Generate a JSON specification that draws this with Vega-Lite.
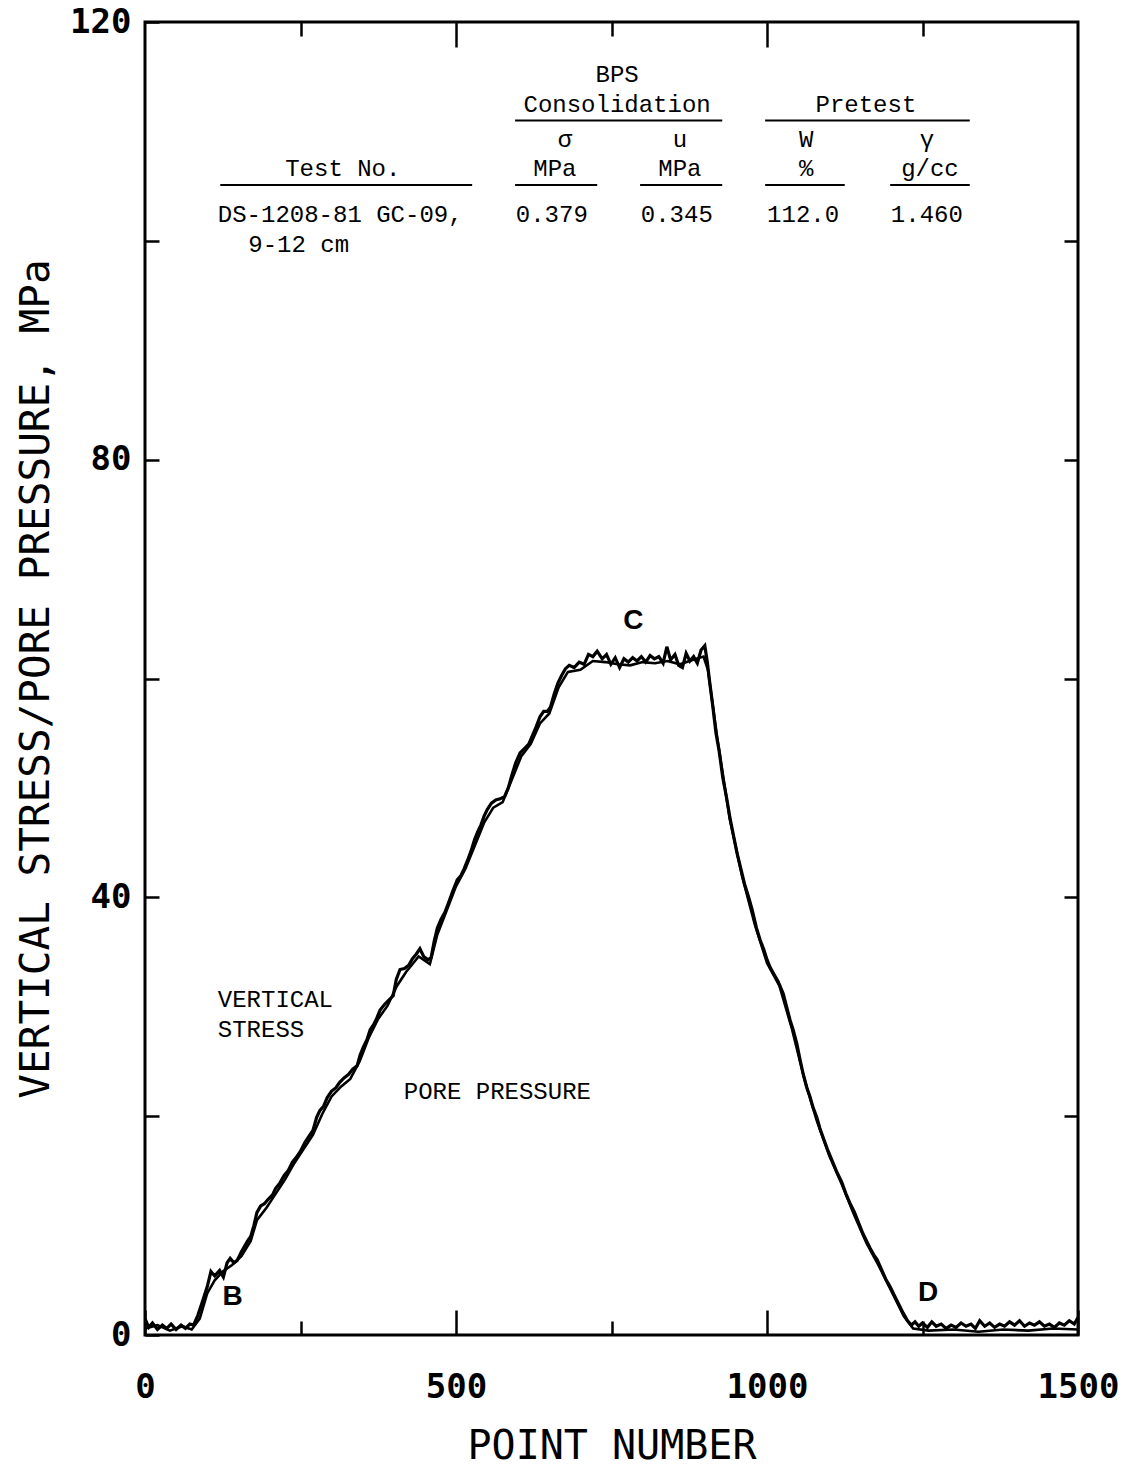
{
  "$schema": "https://vega.github.io/schema/vega-lite/v6.json",
  "width": 933,
  "height": 1313,
  "autosize": "none",
  "padding": {"left": 145, "top": 22, "right": 52, "bottom": 134},
  "background": "white",
  "config": {
    "view": {"stroke": "black", "strokeWidth": 3},
    "axis": {"grid": false, "domain": false, "tickColor": "black", "labelColor": "black", "titleColor": "black"}
  },
  "datasets": {
    "vs": [
      {"n":0,"v":1.5},{"n":6,"v":0.7},{"n":12,"v":1.1},{"n":20,"v":0.5},{"n":28,"v":0.9},{"n":35,"v":0.6},{"n":42,"v":1.0},{"n":50,"v":0.5},{"n":58,"v":0.9},{"n":65,"v":0.6},{"n":72,"v":1.0},{"n":78,"v":0.9},
      {"n":85,"v":1.8},{"n":92,"v":3.0},{"n":100,"v":4.4},{"n":106,"v":5.8},{"n":112,"v":5.4},{"n":120,"v":5.9},{"n":126,"v":5.3},{"n":132,"v":6.6},{"n":137,"v":7.0},{"n":143,"v":6.6},{"n":148,"v":6.8},{"n":155,"v":7.6},{"n":160,"v":8.1},{"n":165,"v":8.6},{"n":170,"v":9.0},{"n":175,"v":10.0},{"n":180,"v":11.2},{"n":186,"v":11.8},{"n":192,"v":12.0},{"n":198,"v":12.4},{"n":205,"v":12.8},{"n":210,"v":13.4},{"n":217,"v":13.9},{"n":224,"v":14.6},{"n":230,"v":15.0},{"n":237,"v":15.8},{"n":244,"v":16.3},{"n":250,"v":16.8},{"n":257,"v":17.6},{"n":264,"v":18.2},{"n":270,"v":18.7},{"n":276,"v":19.9},{"n":281,"v":20.5},{"n":287,"v":20.9},{"n":293,"v":21.7},{"n":300,"v":22.3},{"n":307,"v":22.6},{"n":313,"v":23.1},{"n":320,"v":23.5},{"n":327,"v":23.8},{"n":334,"v":24.3},{"n":341,"v":24.6},{"n":346,"v":25.6},{"n":351,"v":26.3},{"n":357,"v":27.0},{"n":362,"v":27.9},{"n":368,"v":28.4},{"n":373,"v":29.0},{"n":378,"v":29.7},{"n":385,"v":30.2},{"n":392,"v":30.6},{"n":399,"v":31.0},{"n":404,"v":32.5},{"n":410,"v":33.4},{"n":417,"v":33.5},{"n":424,"v":33.8},{"n":430,"v":34.4},{"n":436,"v":34.8},{"n":442,"v":35.3},{"n":448,"v":34.6},{"n":455,"v":34.3},{"n":460,"v":34.5},{"n":465,"v":36.0},{"n":470,"v":37.2},{"n":476,"v":38.0},{"n":482,"v":38.6},{"n":488,"v":39.5},{"n":495,"v":40.6},{"n":502,"v":41.6},{"n":508,"v":42.0},{"n":513,"v":42.6},{"n":518,"v":43.3},{"n":524,"v":44.2},{"n":530,"v":45.3},{"n":535,"v":46.0},{"n":540,"v":46.6},{"n":545,"v":47.4},{"n":550,"v":48.0},{"n":557,"v":48.6},{"n":564,"v":48.9},{"n":571,"v":49.0},{"n":578,"v":49.2},{"n":584,"v":50.0},{"n":590,"v":51.2},{"n":596,"v":52.3},{"n":603,"v":53.2},{"n":610,"v":53.6},{"n":617,"v":54.0},{"n":623,"v":54.8},{"n":629,"v":55.6},{"n":635,"v":56.5},{"n":641,"v":57.0},{"n":647,"v":57.0},{"n":652,"v":57.4},{"n":658,"v":58.6},{"n":664,"v":59.6},{"n":670,"v":60.3},{"n":676,"v":60.9},{"n":682,"v":61.2},
      {"n":690,"v":61.0},{"n":698,"v":61.5},{"n":706,"v":61.3},{"n":713,"v":62.2},{"n":720,"v":62.0},{"n":727,"v":62.5},{"n":735,"v":61.8},{"n":742,"v":62.2},{"n":749,"v":61.3},{"n":756,"v":61.9},{"n":763,"v":61.0},{"n":770,"v":61.8},{"n":777,"v":61.5},{"n":784,"v":61.9},{"n":791,"v":61.6},{"n":798,"v":62.0},{"n":805,"v":61.5},{"n":812,"v":62.1},{"n":819,"v":61.8},{"n":826,"v":62.0},{"n":833,"v":61.4},{"n":839,"v":62.9},{"n":845,"v":61.7},{"n":852,"v":62.2},{"n":858,"v":61.2},{"n":864,"v":61.0},{"n":870,"v":62.3},{"n":876,"v":61.6},{"n":882,"v":62.0},{"n":888,"v":61.4},{"n":894,"v":62.6},{"n":900,"v":63.0},
      {"n":904,"v":61.5},{"n":908,"v":59.6},{"n":913,"v":57.4},{"n":918,"v":55.0},{"n":923,"v":53.4},{"n":929,"v":50.9},{"n":935,"v":49.1},{"n":941,"v":47.1},{"n":947,"v":45.4},{"n":952,"v":44.0},{"n":958,"v":42.6},{"n":964,"v":41.2},{"n":970,"v":40.1},{"n":976,"v":38.9},{"n":983,"v":37.2},{"n":989,"v":36.1},{"n":995,"v":35.2},{"n":1000,"v":34.3},{"n":1005,"v":33.6},{"n":1011,"v":33.0},{"n":1018,"v":32.3},{"n":1026,"v":31.2},{"n":1032,"v":29.9},{"n":1037,"v":28.8},{"n":1042,"v":27.9},{"n":1048,"v":26.6},{"n":1053,"v":25.2},{"n":1058,"v":23.9},{"n":1064,"v":22.6},{"n":1069,"v":21.8},{"n":1074,"v":20.8},{"n":1080,"v":19.9},{"n":1085,"v":18.9},{"n":1090,"v":18.1},{"n":1097,"v":17.0},{"n":1105,"v":15.9},{"n":1113,"v":14.8},{"n":1120,"v":14.0},{"n":1127,"v":12.9},{"n":1133,"v":12.1},{"n":1140,"v":11.3},{"n":1147,"v":10.3},{"n":1154,"v":9.3},{"n":1160,"v":8.6},{"n":1166,"v":7.9},{"n":1172,"v":7.3},{"n":1177,"v":6.9},{"n":1184,"v":6.0},{"n":1191,"v":5.1},{"n":1198,"v":4.4},{"n":1205,"v":3.6},{"n":1212,"v":2.8},{"n":1219,"v":2.0},{"n":1226,"v":1.3},{"n":1232,"v":0.9},
      {"n":1238,"v":1.2},{"n":1244,"v":0.8},{"n":1250,"v":1.1},{"n":1258,"v":0.7},{"n":1265,"v":1.2},{"n":1272,"v":0.8},{"n":1280,"v":1.0},{"n":1288,"v":0.6},{"n":1296,"v":0.9},{"n":1304,"v":0.7},{"n":1312,"v":1.1},{"n":1320,"v":0.8},{"n":1328,"v":1.0},{"n":1335,"v":0.6},{"n":1342,"v":1.3},{"n":1350,"v":0.8},{"n":1358,"v":1.1},{"n":1366,"v":0.7},{"n":1374,"v":1.0},{"n":1382,"v":0.8},{"n":1390,"v":1.2},{"n":1398,"v":0.9},{"n":1406,"v":1.3},{"n":1414,"v":0.8},{"n":1422,"v":1.1},{"n":1430,"v":0.9},{"n":1438,"v":1.2},{"n":1446,"v":0.8},{"n":1454,"v":1.0},{"n":1462,"v":0.7},{"n":1470,"v":1.1},{"n":1478,"v":0.9},{"n":1486,"v":1.3},{"n":1494,"v":1.0},{"n":1500,"v":1.6}
    ],
    "pp": [
      {"n":0,"v":0.6},{"n":20,"v":0.9},{"n":40,"v":0.4},{"n":60,"v":0.8},{"n":75,"v":0.5},{"n":88,"v":1.5},{"n":100,"v":3.8},{"n":112,"v":5.0},{"n":125,"v":5.8},{"n":140,"v":6.4},{"n":155,"v":7.2},{"n":170,"v":8.6},{"n":180,"v":10.5},{"n":195,"v":11.6},{"n":210,"v":12.9},{"n":225,"v":14.2},{"n":240,"v":15.7},{"n":255,"v":17.0},{"n":270,"v":18.3},{"n":285,"v":20.2},{"n":300,"v":21.8},{"n":315,"v":22.7},{"n":330,"v":23.4},{"n":345,"v":25.0},{"n":360,"v":27.2},{"n":375,"v":28.9},{"n":390,"v":30.1},{"n":405,"v":31.9},{"n":420,"v":33.2},{"n":440,"v":34.6},{"n":458,"v":33.9},{"n":470,"v":36.6},{"n":485,"v":38.8},{"n":500,"v":41.0},{"n":515,"v":42.6},{"n":530,"v":44.7},{"n":545,"v":46.8},{"n":560,"v":48.2},{"n":575,"v":48.7},{"n":590,"v":50.8},{"n":605,"v":52.9},{"n":620,"v":54.0},{"n":635,"v":55.9},{"n":650,"v":56.8},{"n":665,"v":59.2},{"n":680,"v":60.6},{"n":700,"v":60.8},{"n":720,"v":61.6},{"n":740,"v":61.5},{"n":760,"v":61.3},{"n":780,"v":61.2},{"n":800,"v":61.5},{"n":820,"v":61.4},{"n":840,"v":61.6},{"n":860,"v":61.3},{"n":880,"v":61.7},{"n":898,"v":62.0},{"n":905,"v":60.8},{"n":920,"v":54.6},{"n":940,"v":47.2},{"n":960,"v":41.9},{"n":980,"v":37.6},{"n":1000,"v":34.0},{"n":1020,"v":31.9},{"n":1040,"v":28.0},{"n":1060,"v":23.4},{"n":1080,"v":19.6},{"n":1100,"v":16.4},{"n":1120,"v":13.8},{"n":1140,"v":11.0},{"n":1160,"v":8.4},{"n":1180,"v":6.3},{"n":1200,"v":4.0},{"n":1220,"v":1.7},{"n":1235,"v":0.6},{"n":1260,"v":0.4},{"n":1300,"v":0.5},{"n":1340,"v":0.3},{"n":1380,"v":0.5},{"n":1420,"v":0.4},{"n":1460,"v":0.6},{"n":1500,"v":0.5}
    ],
    "tableC": [
      {"x":759,"y":115.2,"t":"BPS"},
      {"x":759,"y":112.4,"t":"Consolidation"},
      {"x":1159,"y":112.4,"t":"Pretest"},
      {"x":675,"y":109.2,"t":"σ"},
      {"x":860,"y":109.2,"t":"u"},
      {"x":1063,"y":109.2,"t":"W"},
      {"x":1257,"y":109.2,"t":"γ"},
      {"x":318,"y":106.6,"t":"Test No."},
      {"x":659,"y":106.6,"t":"MPa"},
      {"x":860,"y":106.6,"t":"MPa"},
      {"x":1063,"y":106.6,"t":"%"},
      {"x":1262,"y":106.6,"t":"g/cc"},
      {"x":654,"y":102.4,"t":"0.379"},
      {"x":855,"y":102.4,"t":"0.345"},
      {"x":1058,"y":102.4,"t":"112.0"},
      {"x":1257,"y":102.4,"t":"1.460"}
    ],
    "notesL": [
      {"x":117,"y":102.4,"t":"DS-1208-81 GC-09,"},
      {"x":166,"y":99.6,"t":"9-12 cm"},
      {"x":117,"y":30.6,"t":"VERTICAL"},
      {"x":117,"y":27.9,"t":"STRESS"},
      {"x":416,"y":22.2,"t":"PORE PRESSURE"}
    ],
    "lines": [
      {"x":595,"x2":928,"y":111.0},
      {"x":997,"x2":1326,"y":111.0},
      {"x":121,"x2":526,"y":105.1},
      {"x":595,"x2":727,"y":105.1},
      {"x":796,"x2":928,"y":105.1},
      {"x":997,"x2":1125,"y":105.1},
      {"x":1198,"x2":1326,"y":105.1}
    ],
    "letters": [
      {"x":785,"y":65.3,"t":"C"},
      {"x":141,"y":3.5,"t":"B"},
      {"x":1259,"y":3.8,"t":"D"}
    ]
  },
  "resolve": {"axis": {"x": "independent", "y": "independent"}},
  "layer": [
    {
      "layer": [
        {
          "data": {"name": "vs"},
          "mark": {"type": "line", "color": "black", "strokeWidth": 3.2, "clip": true},
          "encoding": {
            "x": {"field": "n", "type": "quantitative", "scale": {"domain": [0, 1500], "nice": false},
              "axis": {"title": "POINT NUMBER", "values": [0, 250, 500, 750, 1000, 1250, 1500], "format": "d",
                "labelExpr": "datum.value % 500 == 0 ? datum.label : ''", "labelFlush": false,
                "tickWidth": 2.5, "tickSize": {"condition": {"test": "datum.value % 500 == 0", "value": -25}, "value": -14},
                "labelFont": "DejaVu Sans Mono", "labelFontSize": 34, "labelFontWeight": "bold", "labelPadding": 60,
                "titleFont": "DejaVu Sans Mono", "titleFontSize": 40, "titleFontWeight": "normal", "titlePadding": 22}},
            "y": {"field": "v", "type": "quantitative", "scale": {"domain": [0, 120], "nice": false},
              "axis": {"title": "VERTICAL STRESS/PORE PRESSURE, MPa", "values": [0, 20, 40, 60, 80, 100, 120],
                "labelExpr": "datum.value % 40 == 0 ? datum.label : ''",
                "tickWidth": 2.5, "tickSize": -14,
                "labelFont": "DejaVu Sans Mono", "labelFontSize": 34, "labelFontWeight": "bold", "labelPadding": 28,
                "titleFont": "DejaVu Sans Mono", "titleFontSize": 41, "titleFontWeight": "normal", "titlePadding": 12}}
          }
        },
        {
          "data": {"name": "pp"},
          "mark": {"type": "line", "color": "black", "strokeWidth": 2.6, "clip": true},
          "encoding": {
            "x": {"field": "n", "type": "quantitative"},
            "y": {"field": "v", "type": "quantitative"}
          }
        },
        {
          "data": {"name": "tableC"},
          "mark": {"type": "text", "font": "Liberation Mono", "fontSize": 24, "color": "black", "align": "center", "baseline": "middle"},
          "encoding": {
            "x": {"field": "x", "type": "quantitative"},
            "y": {"field": "y", "type": "quantitative"},
            "text": {"field": "t"}
          }
        },
        {
          "data": {"name": "notesL"},
          "mark": {"type": "text", "font": "Liberation Mono", "fontSize": 24, "color": "black", "align": "left", "baseline": "middle"},
          "encoding": {
            "x": {"field": "x", "type": "quantitative"},
            "y": {"field": "y", "type": "quantitative"},
            "text": {"field": "t"}
          }
        },
        {
          "data": {"name": "lines"},
          "mark": {"type": "rule", "color": "black", "strokeWidth": 2},
          "encoding": {
            "x": {"field": "x", "type": "quantitative"},
            "x2": {"field": "x2"},
            "y": {"field": "y", "type": "quantitative"}
          }
        }
      ]
    },
    {
      "data": {"name": "letters"},
      "mark": {"type": "text", "font": "Liberation Sans", "fontWeight": "bold", "fontSize": 28, "color": "black", "align": "center", "baseline": "middle"},
      "encoding": {
        "x": {"field": "x", "type": "quantitative", "scale": {"domain": [0, 1500], "nice": false},
          "axis": {"orient": "top", "title": null, "labels": false, "values": [250, 500, 750, 1000, 1250], "tickWidth": 2.5,
            "tickSize": {"condition": {"test": "datum.value % 500 == 0", "value": -25}, "value": -14}}},
        "y": {"field": "y", "type": "quantitative", "scale": {"domain": [0, 120], "nice": false},
          "axis": {"orient": "right", "title": null, "labels": false, "values": [20, 40, 60, 80, 100], "tickWidth": 2.5, "tickSize": -14}},
        "text": {"field": "t"}
      }
    }
  ]
}
